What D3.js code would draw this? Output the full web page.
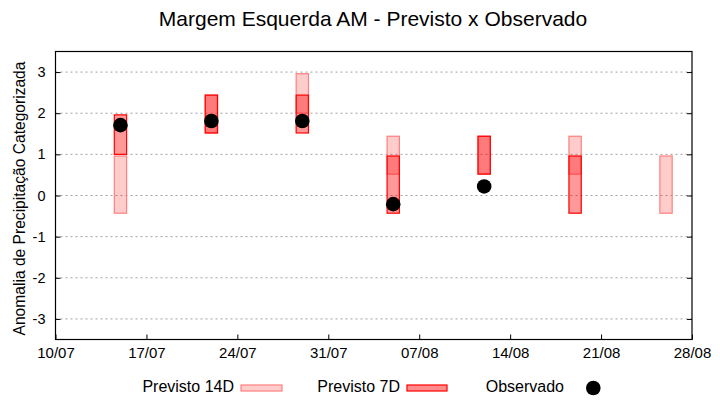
<!DOCTYPE html>
<html>
<head>
<meta charset="utf-8">
<script src="https://cdn.jsdelivr.net/npm/d3@7"></script>
<style>
  html, body { margin: 0; padding: 0; background: #fff; }
  svg { display: block; font-family: "Liberation Sans", Arial, sans-serif; }
</style>
</head>
<body>
<svg id="chart" width="720" height="400"></svg>
<script>
// ---- data ----
const dates = ["15/07", "22/07", "29/07", "05/08", "12/08", "19/08", "26/08"];
const prev14Low  = [-0.43, 1.52, 2.00, 0.52, 0.52, 0.52, -0.43];
const prev14High = [ 0.96, 2.44, 2.96, 1.44, 1.44, 1.44,  0.96];
const prev7Low   = [ 1.00, 1.52, 1.52, -0.43, 0.52, -0.43, null];
const prev7High  = [ 1.96, 2.44, 2.44, 0.96, 1.44, 0.96, null];
const observado  = [ 1.71, 1.81, 1.81, -0.21, 0.22, null, null];
const xTickLabels = ["10/07", "17/07", "24/07", "31/07", "07/08", "14/08", "21/08", "28/08"];
const yTicks = [-3, -2, -1, 0, 1, 2, 3];
const title = "Margem Esquerda AM - Previsto x Observado";
const yTitle = "Anomalia de Precipitação Categorizada";
const legendLabels = ["Previsto 14D", "Previsto 7D", "Observado"];

// ---- helpers ----
const year = 2023;
const parse = s => { const [d, m] = s.split("/").map(Number); return new Date(year, m - 1, d); };

const svg = d3.select("#chart");
const pLeft = 55.5, pRight = 692, pTop = 51.5, pBottom = 339.5;

const x = d3.scaleTime()
  .domain([parse(xTickLabels[0]), parse(xTickLabels[xTickLabels.length - 1])])
  .range([pLeft, pRight]);
const y = d3.scaleLinear().domain([-3.5, 3.5]).range([pBottom, pTop]);

const barW = 12.3;
const red = "#ff0000";
const salmon = "#ff7f7f";

// grid
svg.append("g").selectAll("line").data(yTicks).join("line")
  .attr("x1", pLeft).attr("x2", pRight)
  .attr("y1", d => y(d)).attr("y2", d => y(d))
  .attr("stroke", "#a0a0a0").attr("stroke-width", 1)
  .attr("stroke-dasharray", "2,3");

// y axis (left) with inward ticks
const yAxis = d3.axisLeft(y).tickValues(yTicks).tickSize(-5).tickPadding(10)
  .tickFormat(d => String(d));
const gy = svg.append("g").attr("transform", `translate(${pLeft},0)`).call(yAxis);
gy.select(".domain").remove();
gy.selectAll("line").attr("stroke", "#000");
gy.selectAll("text").attr("font-size", 14.5).attr("fill", "#000")
  .attr("font-family", "Liberation Sans, Arial, sans-serif");

// right mirror ticks
const gyr = svg.append("g").attr("transform", `translate(${pRight},0)`)
  .call(d3.axisRight(y).tickValues(yTicks).tickSize(-5).tickFormat(""));
gyr.select(".domain").remove();
gyr.selectAll("line").attr("stroke", "#000");

// x axis
const xAxis = d3.axisBottom(x).tickValues(xTickLabels.map(parse)).tickSize(-5).tickPadding(8)
  .tickFormat(d3.timeFormat("%d/%m"));
const gx = svg.append("g").attr("transform", `translate(0,${pBottom})`).call(xAxis);
gx.select(".domain").remove();
gx.selectAll("line").attr("stroke", "#000");
gx.selectAll("text").attr("font-size", 15).attr("fill", "#000")
  .attr("font-family", "Liberation Sans, Arial, sans-serif");

// frame
svg.append("rect").attr("x", pLeft).attr("y", pTop)
  .attr("width", pRight - pLeft).attr("height", pBottom - pTop)
  .attr("fill", "none").attr("stroke", "#000").attr("stroke-width", 1.2);

const data = dates.map((d, i) => ({
  date: parse(d), l14: prev14Low[i], h14: prev14High[i],
  l7: prev7Low[i], h7: prev7High[i], obs: observado[i]
}));

// bars 14D
svg.append("g").selectAll("rect").data(data.filter(d => d.l14 != null)).join("rect")
  .attr("x", d => x(d.date) - barW / 2).attr("width", barW)
  .attr("y", d => y(d.h14)).attr("height", d => y(d.l14) - y(d.h14))
  .attr("fill", red).attr("fill-opacity", 0.2)
  .attr("stroke", salmon).attr("stroke-width", 1.2);

// bars 7D
svg.append("g").selectAll("rect").data(data.filter(d => d.l7 != null)).join("rect")
  .attr("x", d => x(d.date) - barW / 2).attr("width", barW)
  .attr("y", d => y(d.h7)).attr("height", d => y(d.l7) - y(d.h7))
  .attr("fill", red).attr("fill-opacity", 0.4)
  .attr("stroke", red).attr("stroke-width", 1.2);

// observed points
svg.append("g").selectAll("circle").data(data.filter(d => d.obs != null)).join("circle")
  .attr("cx", d => x(d.date)).attr("cy", d => y(d.obs)).attr("r", 7.3)
  .attr("fill", "#000");

// title
svg.append("text").attr("x", 373).attr("y", 26).attr("text-anchor", "middle")
  .attr("font-size", 21).attr("fill", "#000").text(title);

// y title
svg.append("text").attr("transform", `translate(25,${(pTop + pBottom) / 2 + 3}) rotate(-90)`)
  .attr("text-anchor", "middle").attr("font-size", 15.6).attr("fill", "#000").text(yTitle);

// legend
const lg = svg.append("g");
lg.append("text").attr("x", 234).attr("y", 392).attr("text-anchor", "end")
  .attr("font-size", 16).text(legendLabels[0]);
lg.append("rect").attr("x", 241).attr("y", 385).attr("width", 41).attr("height", 6)
  .attr("fill", red).attr("fill-opacity", 0.2).attr("stroke", salmon).attr("stroke-width", 1.2);
lg.append("text").attr("x", 400).attr("y", 392).attr("text-anchor", "end")
  .attr("font-size", 16).text(legendLabels[1]);
lg.append("rect").attr("x", 407).attr("y", 385).attr("width", 40).attr("height", 6)
  .attr("fill", red).attr("fill-opacity", 0.45).attr("stroke", red).attr("stroke-width", 1.2);
lg.append("text").attr("x", 564).attr("y", 392).attr("text-anchor", "end")
  .attr("font-size", 16).text(legendLabels[2]);
lg.append("circle").attr("cx", 593.3).attr("cy", 388).attr("r", 7.3).attr("fill", "#000");
</script>
</body>
</html>
